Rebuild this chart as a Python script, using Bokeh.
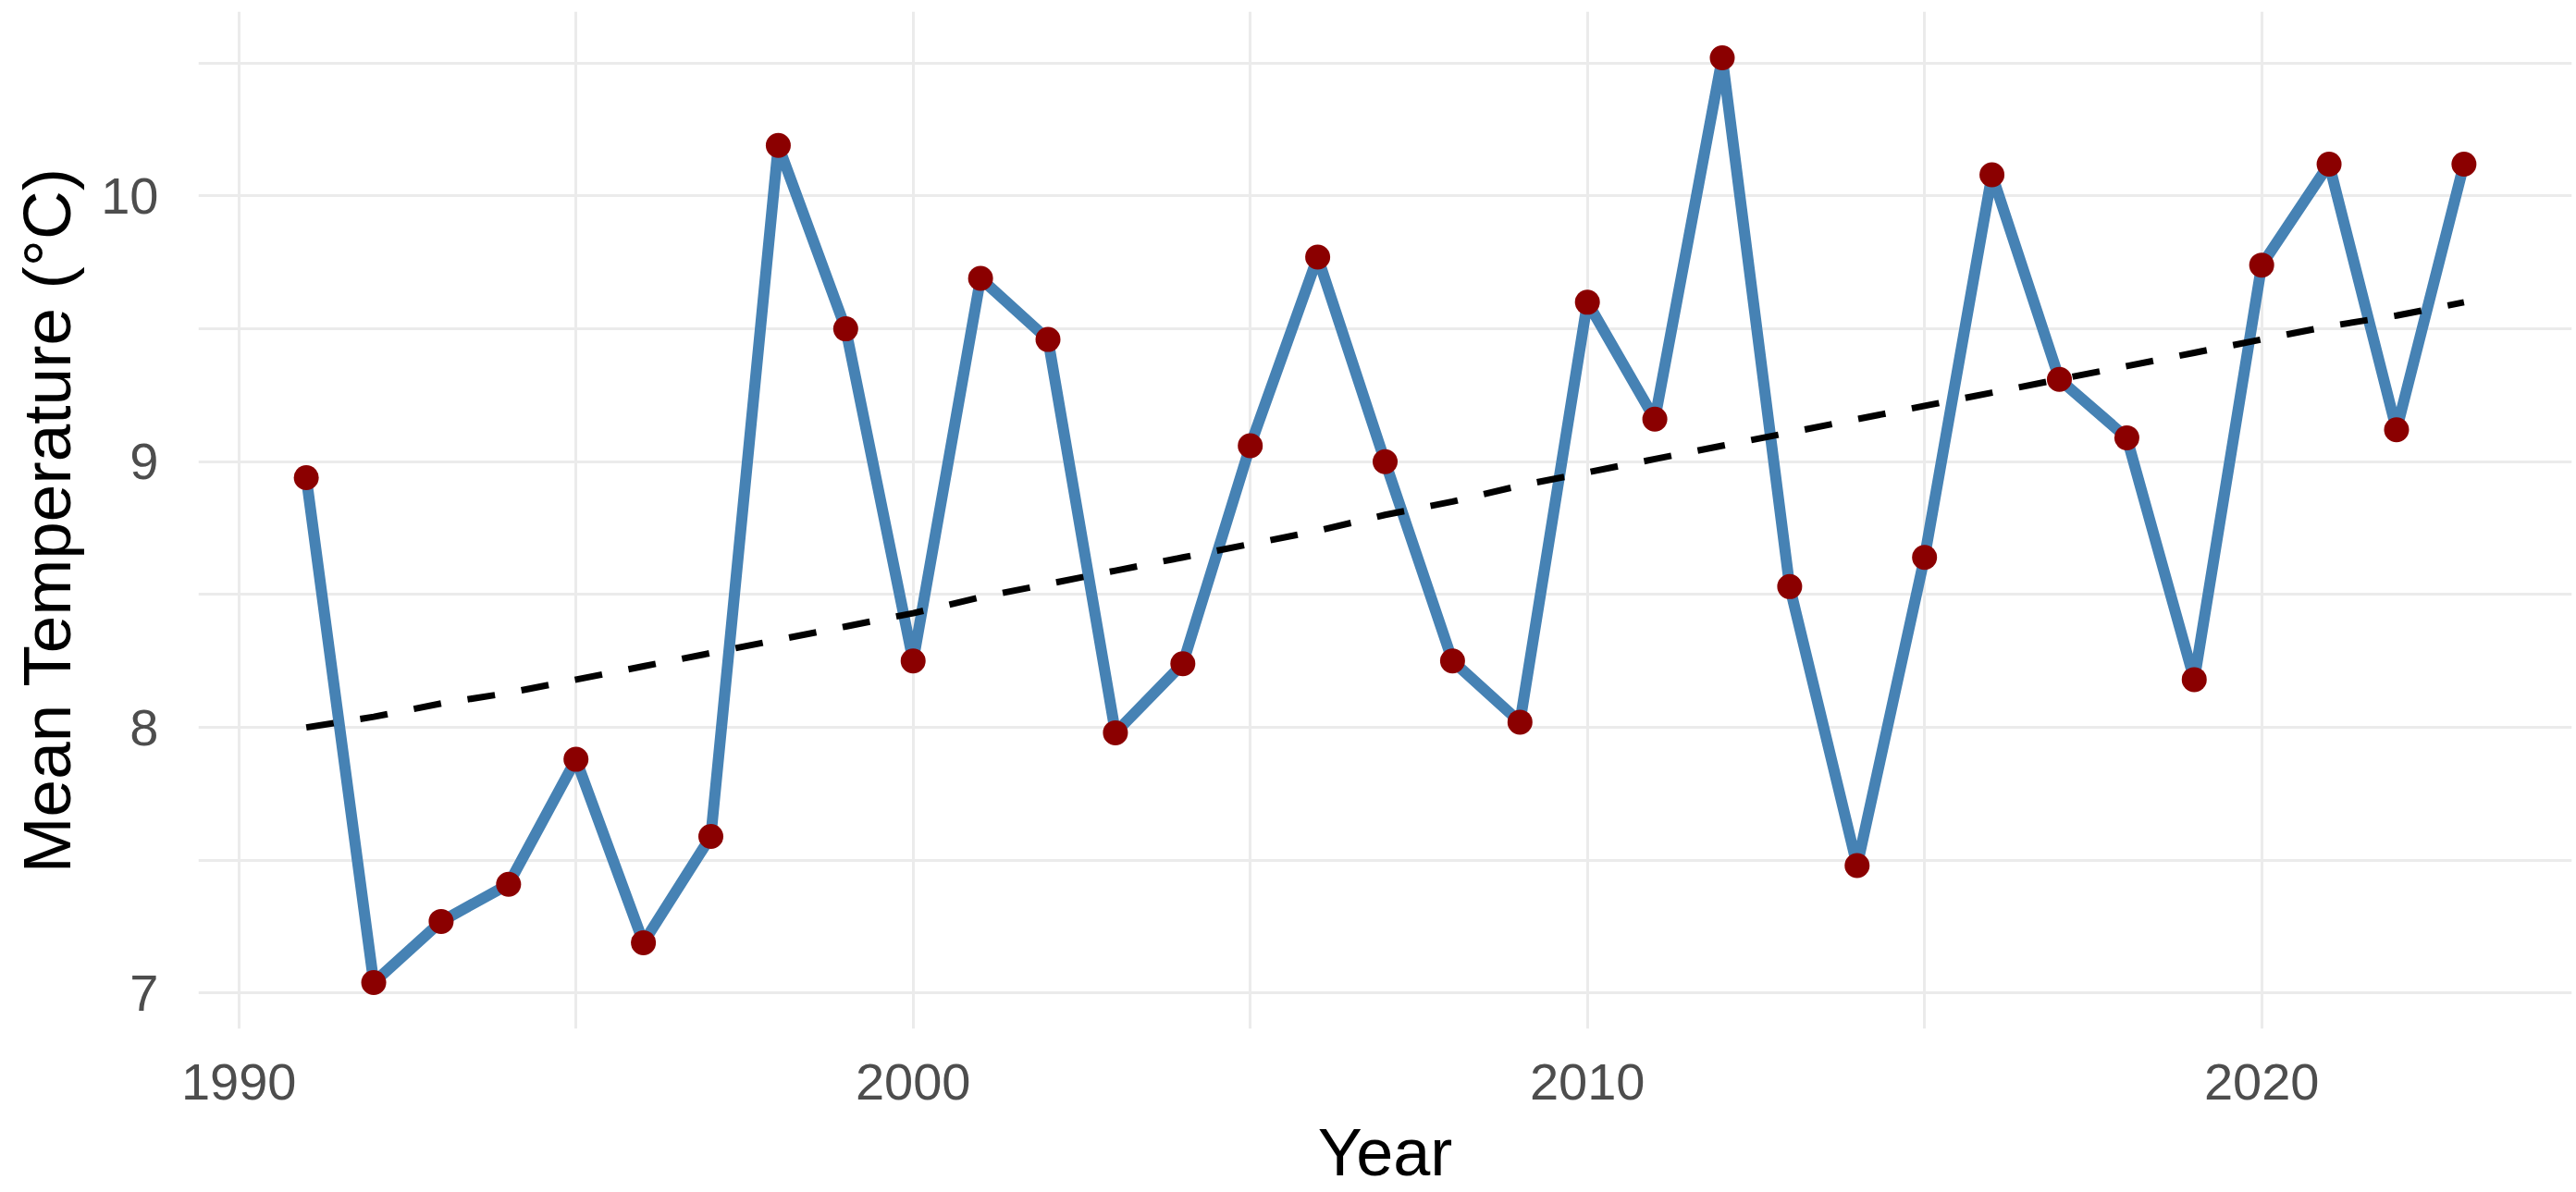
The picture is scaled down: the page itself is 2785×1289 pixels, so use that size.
from bokeh.plotting import figure
from bokeh.models import FixedTicker, Range1d, ColumnDataSource
from bokeh.embed import file_html
from bokeh.resources import INLINE

# Annual mean temperature series
years = list(range(1991, 2024))
mean_temp = [8.94, 7.04, 7.27, 7.41, 7.88, 7.19, 7.59, 10.19, 9.50, 8.25,
             9.69, 9.46, 7.98, 8.24, 9.06, 9.77, 9.00, 8.25, 8.02, 9.60,
             9.16, 10.52, 8.53, 7.48, 8.64, 10.08, 9.31, 9.09, 8.18, 9.74,
             10.12, 9.12, 10.12]
# Smoothed trend through the series
trend = [8.00, 8.04, 8.09, 8.13, 8.18, 8.23, 8.28, 8.33, 8.38, 8.43,
         8.49, 8.54, 8.59, 8.64, 8.69, 8.74, 8.80, 8.85, 8.91, 8.96,
         9.01, 9.06, 9.11, 9.16, 9.21, 9.26, 9.31, 9.36, 9.41, 9.46,
         9.51, 9.55, 9.60]

x_ticks = [1990, 2000, 2010, 2020]
x_minor = [1995, 2005, 2015]
y_ticks = [7, 8, 9, 10]
y_minor = [7.5, 8.5, 9.5, 10.5]

src = ColumnDataSource(dict(year=years, temp=mean_temp, trend=trend))

# 5% padding around the data on both axes
x_lo, x_hi = min(years), max(years)
x_pad = 0.05 * (x_hi - x_lo)
all_y = mean_temp + trend
y_lo, y_hi = min(all_y), max(all_y)
y_pad = 0.05 * (y_hi - y_lo)

FONT = "Liberation Sans"
GRID = "#EBEBEB"

p = figure(width=2785, height=1289, output_backend="svg", toolbar_location=None,
           x_range=Range1d(x_lo - x_pad, x_hi + x_pad),
           y_range=Range1d(y_lo - y_pad, y_hi + y_pad),
           min_border_left=214, min_border_right=5,
           min_border_top=12, min_border_bottom=177)
p.outline_line_color = None
p.background_fill_color = "white"
p.border_fill_color = "white"

p.line("year", "temp", source=src, line_color="#4682B4", line_width=12,
       line_join="round")
p.scatter("year", "temp", source=src, size=27, fill_color="#8B0000",
          line_color=None)
p.line("year", "trend", source=src, line_color="black", line_width=7,
       line_dash="30 29")

p.xaxis.ticker = FixedTicker(ticks=x_ticks, minor_ticks=x_minor)
p.yaxis.ticker = FixedTicker(ticks=y_ticks, minor_ticks=y_minor)

for ax in (p.xaxis[0], p.yaxis[0]):
    ax.axis_line_color = None
    ax.major_tick_line_color = None
    ax.minor_tick_line_color = None
    ax.major_label_text_font = FONT
    ax.major_label_text_color = "#4D4D4D"
    ax.axis_label_text_font = FONT
    ax.axis_label_text_color = "black"
    ax.axis_label_text_font_style = "normal"

p.xaxis.axis_label = "Year"
p.xaxis.major_label_text_font_size = "56px"
p.xaxis.axis_label_text_font_size = "72px"
p.xaxis.major_label_standoff = 32
p.xaxis.axis_label_standoff = 14

p.yaxis.axis_label = "Mean Temperature (°C)"
p.yaxis.major_label_text_font_size = "56px"
p.yaxis.axis_label_text_font_size = "73px"
p.yaxis.major_label_standoff = 37
p.yaxis.axis_label_standoff = 15

for g in (p.xgrid[0], p.ygrid[0]):
    g.grid_line_color = GRID
    g.grid_line_width = 3
    g.minor_grid_line_color = GRID
    g.minor_grid_line_width = 3

open("out.html", "w").write(file_html(p, INLINE))
